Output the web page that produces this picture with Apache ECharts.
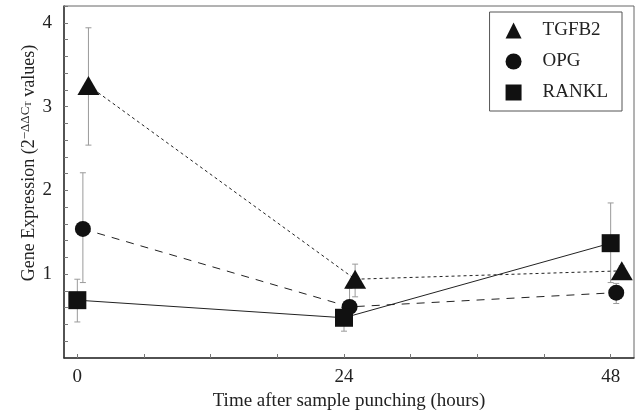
<!DOCTYPE html>
<html>
<head>
<meta charset="utf-8">
<script src="https://cdn.jsdelivr.net/npm/echarts@6/dist/echarts.min.js"></script>
<style>
  html, body { margin: 0; padding: 0; background: #fff; }
  #chart { width: 640px; height: 412px; }
</style>
</head>
<body>
<div id="chart"></div>
<script>
// ---------------------- Data ----------------------
let series_names = ["TGFB2", "OPG", "RANKL"];
// hours (markers are slightly staggered in the figure)
let tgfb2_time = [1, 25, 49];
let opg_time = [0.5, 24.5, 48.5];
let rankl_time = [0, 24, 48];
// mean expression
let tgfb2_value = [3.25, 0.94, 1.04];
let opg_value = [1.54, 0.61, 0.78];
let rankl_value = [0.69, 0.48, 1.37];
// error bar ends
let tgfb2_low = [2.54, 0.73, 0.98];
let tgfb2_high = [3.94, 1.12, 1.1];
let opg_low = [0.9, 0.45, 0.65];
let opg_high = [2.21, 0.83, 0.89];
let rankl_low = [0.43, 0.32, 0.9];
let rankl_high = [0.94, 0.6, 1.85];
// ticks
let x_ticks = [0, 6, 12, 18, 24, 30, 36, 42, 48];
let x_labels = [0, 24, 48];
let y_ticks = [0.2, 0.4, 0.6, 0.8, 1, 1.2, 1.4, 1.6, 1.8, 2, 2.2, 2.4, 2.6, 2.8, 3, 3.2, 3.4, 3.6, 3.8, 4, 4.2];
let y_labels = [1, 2, 3, 4];

// ---------------------- Setup ----------------------
let chart_dom = document.getElementById("chart");
let chart = echarts.init(chart_dom);
let font = "'Liberation Serif', 'DejaVu Serif', serif";

function pairs(xs, ys) {
    return xs.map(function (x, i) { return [x, ys[i]]; });
}
function errRows(xs, lo, hi) {
    return xs.map(function (x, i) { return [x, lo[i], hi[i]]; });
}

function errorSeries(rows) {
    return {
        type: 'custom',
        z: 1,
        silent: true,
        renderItem: function (params, api) {
            let x = api.value(0);
            let p1 = api.coord([x, api.value(1)]);
            let p2 = api.coord([x, api.value(2)]);
            let cap = 3;
            let st = { stroke: '#9a9a9a', lineWidth: 1 };
            return {
                type: 'group',
                children: [
                    { type: 'line', shape: { x1: p1[0], y1: p1[1], x2: p2[0], y2: p2[1] }, style: st },
                    { type: 'line', shape: { x1: p1[0] - cap, y1: p1[1], x2: p1[0] + cap, y2: p1[1] }, style: st },
                    { type: 'line', shape: { x1: p2[0] - cap, y1: p2[1], x2: p2[0] + cap, y2: p2[1] }, style: st }
                ]
            };
        },
        data: rows
    };
}

// ---------------------- Axis ----------------------
let chart_xAxis = {
    type: 'value',
    min: -1.2,
    max: 50.1,
    axisLine: { show: true, onZero: false, lineStyle: { color: '#333', width: 1.5 } },
    axisTick: { show: true, inside: true, length: 4, customValues: x_ticks, lineStyle: { color: '#777' } },
    axisLabel: { customValues: x_labels, color: '#222', fontFamily: font, fontSize: 19, margin: 10 },
    splitLine: { show: false },
    name: 'Time after sample punching (hours)',
    nameLocation: 'middle',
    nameGap: 31,
    nameTextStyle: { color: '#222', fontFamily: font, fontSize: 19 }
};
let chart_yAxis = {
    type: 'value',
    min: 0,
    max: 4.2,
    axisLine: { show: true, onZero: false, lineStyle: { color: '#333', width: 1.5 } },
    axisTick: { show: true, inside: true, length: 4, customValues: y_ticks, lineStyle: { color: '#777' } },
    axisLabel: { customValues: y_labels, color: '#222', fontFamily: font, fontSize: 19, margin: 12 },
    splitLine: { show: false },
    name: 'Gene Expression (2{sup|\u2212\u0394\u0394C}{sub|T} values)',
    nameLocation: 'middle',
    nameMoveOverlap: false,
    nameGap: 25,
    nameTextStyle: {
        color: '#222', fontFamily: font, fontSize: 18, lineHeight: 20,
        padding: [0, 0, 0, 38],
        rich: {
            sup: { fontFamily: font, fontSize: 13, color: '#222', verticalAlign: 'top', lineHeight: 20 },
            sub: { fontFamily: font, fontSize: 9, color: '#222', verticalAlign: 'middle', lineHeight: 20 }
        }
    }
};

// ---------------------- Series ----------------------
let chart_series = [
    errorSeries(errRows(tgfb2_time, tgfb2_low, tgfb2_high)),
    errorSeries(errRows(opg_time, opg_low, opg_high)),
    errorSeries(errRows(rankl_time, rankl_low, rankl_high)),
    {
        name: series_names[0], type: 'line', z: 3,
        symbol: 'triangle', symbolSize: [22, 19],
        itemStyle: { color: '#111' },
        lineStyle: { color: '#222', width: 1, type: [3, 3] },
        data: pairs(tgfb2_time, tgfb2_value)
    },
    {
        name: series_names[1], type: 'line', z: 3,
        symbol: 'circle', symbolSize: 16,
        itemStyle: { color: '#111' },
        lineStyle: { color: '#222', width: 1, type: [8, 7] },
        data: pairs(opg_time, opg_value)
    },
    {
        name: series_names[2], type: 'line', z: 3,
        symbol: 'rect', symbolSize: 18,
        itemStyle: { color: '#111' },
        lineStyle: { color: '#222', width: 1, type: 'solid' },
        data: pairs(rankl_time, rankl_value)
    }
];

// ---------------------- Generate Graph ----------------------
let chart_option = {
    backgroundColor: '#fff',
    animation: false,
    grid: {
        left: 64, top: 6, right: 6, bottom: 54,
        outerBoundsMode: 'none',
        show: true, borderColor: '#666', borderWidth: 1
    },
    xAxis: chart_xAxis,
    yAxis: chart_yAxis,
    legend: {
        data: [
            { name: 'TGFB2', icon: 'triangle' },
            { name: 'OPG', icon: 'circle' },
            { name: 'RANKL', icon: 'rect' }
        ],
        orient: 'vertical',
        right: 18,
        top: 12,
        itemWidth: 16,
        itemHeight: 16,
        itemGap: 12,
        padding: [9, 14, 9, 16],
        borderColor: '#555',
        borderWidth: 1,
        textStyle: { color: '#222', fontFamily: font, fontSize: 19, padding: [0, 0, 0, 16] }
    },
    series: chart_series
};
if (chart_option && typeof chart_option === "object") {
    chart.setOption(chart_option, true);
}
</script>
</body>
</html>
